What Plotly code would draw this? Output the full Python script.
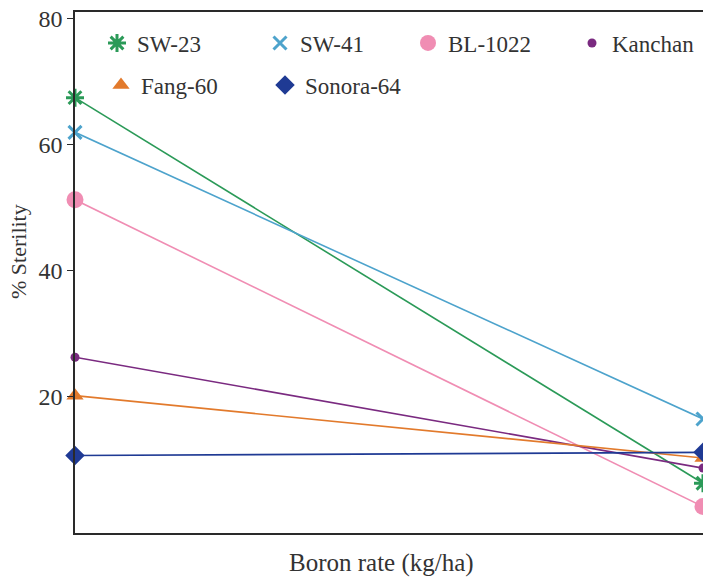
import plotly.graph_objects as go

boron_rate = [0, 1]
series_names = ["SW-23", "SW-41", "BL-1022", "Kanchan", "Fang-60", "Sonora-64"]
sw23 = [67.5, 6.3]
sw41 = [62.0, 16.5]
bl1022 = [51.3, 2.6]
kanchan = [26.3, 8.7]
fang60 = [20.2, 10.3]
sonora64 = [10.7, 11.2]

values = [sw23, sw41, bl1022, kanchan, fang60, sonora64]
colors = ["#2b9a58", "#4da3cc", "#f08db3", "#7a2a80", "#e27a2c", "#1f3a94"]
symbols = ["asterisk-open", "x-thin-open", "circle", "circle", "triangle-up", "diamond"]
sizes = [15, 13, 17, 9, 15, 15]
# legend entry positions (marker centre, px)
leg_pos = [(117, 43), (280, 43), (428, 43), (592, 43), (121, 85), (285, 85)]

font_family = "Liberation Serif, serif"
PL, PT, PW, PH = 75, 12, 628, 521

fig = go.Figure()
layout_legends = {}
for i, (name, vals, col, sym, sz) in enumerate(zip(series_names, values, colors, symbols, sizes)):
    lg = "legend" if i == 0 else f"legend{i+1}"
    mk = dict(color=col, symbol=sym, size=sz, line=dict(color=col, width=3 if "open" in sym else 0))
    fig.add_trace(go.Scatter(
        x=boron_rate, y=vals, name=name, mode="lines",
        line=dict(color=col, width=1.6), showlegend=False, cliponaxis=False,
    ))
    fig.add_trace(go.Scatter(
        x=boron_rate, y=vals, name=name, mode="markers",
        marker=mk, cliponaxis=False, legend=lg,
    ))
    mx, my = leg_pos[i]
    layout_legends[lg] = dict(
        x=(mx - 20 - PL) / PW, y=(PT + PH - my) / PH, xanchor="left", yanchor="middle",
        bgcolor="rgba(0,0,0,0)",
        font=dict(family=font_family, size=23, color="#333"),
        itemwidth=30,
    )

fig.update_layout(
    width=703, height=584,
    margin=dict(l=PL, r=0, t=PT, b=584 - PT - PH),
    plot_bgcolor="white", paper_bgcolor="white",
    font=dict(family=font_family, size=23, color="#333"),
    xaxis=dict(range=[0, 1], showticklabels=False, ticks="", showgrid=False, zeroline=False,
               showline=True, linecolor="#2a2a2a", linewidth=1.5, mirror=True),
    yaxis=dict(range=[-1.6, 81.1], tickvals=[20, 40, 60, 80], ticks="outside", ticklen=6,
               tickcolor="#2a2a2a", showgrid=False, zeroline=False, showline=True, linecolor="#2a2a2a",
               linewidth=1.5, tickfont=dict(family=font_family, size=24)),
    annotations=[
        dict(text="% Sterility", textangle=-90, xref="paper", yref="paper",
             x=(18 - PL) / PW, y=(PT + PH - 252) / PH, xanchor="center", yanchor="middle",
             showarrow=False, font=dict(family=font_family, size=22, color="#333")),
        dict(text="Boron rate (kg/ha)", xref="paper", yref="paper",
             x=(381 - PL) / PW, y=(PT + PH - 563) / PH, xanchor="center", yanchor="middle",
             showarrow=False, font=dict(family=font_family, size=25, color="#333")),
    ],
    **layout_legends,
)
fig.write_html("out.html")
